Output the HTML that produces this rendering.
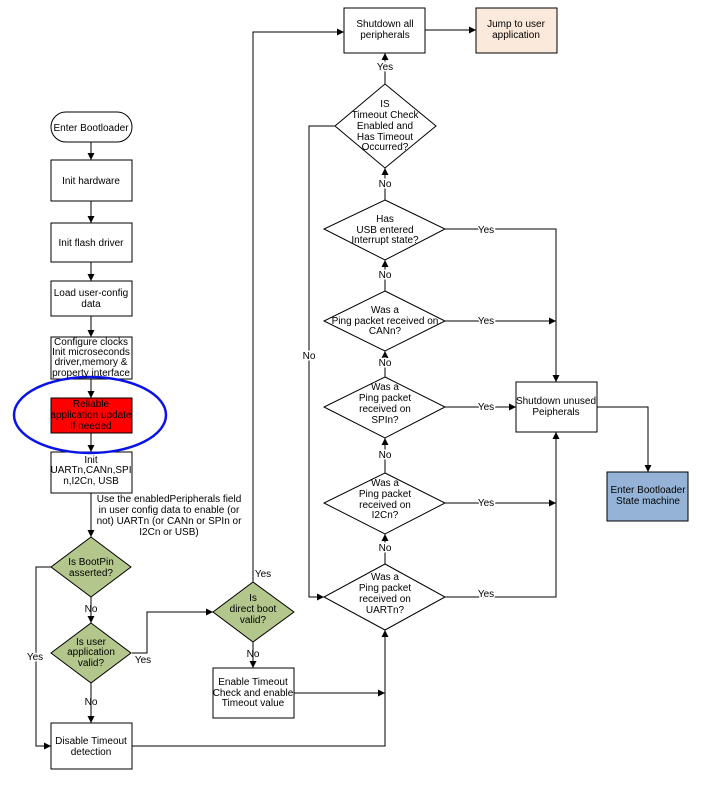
<!DOCTYPE html>
<html><head><meta charset="utf-8"><style>
html,body{margin:0;padding:0;background:#fff;}
svg{display:block;font-family:"Liberation Sans",Arial,sans-serif;font-size:10px;}
</style></head><body>
<svg width="717" height="787" viewBox="0 0 717 787" xmlns="http://www.w3.org/2000/svg">
<defs><marker id="a" markerWidth="8" markerHeight="8" refX="7" refY="4" orient="auto" markerUnits="userSpaceOnUse"><path d="M0,0.5 L7,4 L0,7.5 z" fill="#000"/></marker></defs>
<g fill="none" stroke="#000" stroke-width="1">
<!-- left column -->
<line x1="91" y1="142" x2="91" y2="160" marker-end="url(#a)"/>
<line x1="91" y1="201" x2="91" y2="223" marker-end="url(#a)"/>
<line x1="91" y1="262" x2="91" y2="281" marker-end="url(#a)"/>
<line x1="91" y1="316" x2="91" y2="337" marker-end="url(#a)"/>
<line x1="91" y1="379" x2="91" y2="398" marker-end="url(#a)"/>
<line x1="91" y1="433" x2="91" y2="452" marker-end="url(#a)"/>
<line x1="91" y1="493" x2="91" y2="537" marker-end="url(#a)"/>
<line x1="91" y1="597" x2="91" y2="623" marker-end="url(#a)"/>
<line x1="91" y1="683" x2="91" y2="723" marker-end="url(#a)"/>
<polyline points="51,567 36,567 36,746 51,746" marker-end="url(#a)"/>
<polyline points="132,653 147,653 147,612 213,612" marker-end="url(#a)"/>
<polyline points="253,582 253,32 344,32" marker-end="url(#a)"/>
<line x1="253" y1="642" x2="253" y2="668" marker-end="url(#a)"/>
<line x1="294" y1="693" x2="385" y2="693" marker-end="url(#a)"/>
<polyline points="132,746 385,746 385,630" marker-end="url(#a)"/>
<line x1="425" y1="30" x2="476" y2="30" marker-end="url(#a)"/>
<!-- right column -->
<line x1="385" y1="84" x2="385" y2="53" marker-end="url(#a)"/>
<line x1="385" y1="200" x2="385" y2="168" marker-end="url(#a)"/>
<line x1="385" y1="291" x2="385" y2="260" marker-end="url(#a)"/>
<line x1="385" y1="377" x2="385" y2="351" marker-end="url(#a)"/>
<line x1="385" y1="473" x2="385" y2="438" marker-end="url(#a)"/>
<line x1="385" y1="564" x2="385" y2="534" marker-end="url(#a)"/>
<polyline points="335,126 309,126 309,597 324,597" marker-end="url(#a)"/>
<polyline points="445,229 556,229 556,382" marker-end="url(#a)"/>
<line x1="445" y1="321" x2="556" y2="321" marker-end="url(#a)"/>
<line x1="445" y1="407" x2="516" y2="407" marker-end="url(#a)"/>
<line x1="445" y1="503" x2="556" y2="503" marker-end="url(#a)"/>
<polyline points="445,597 556,597 556,432" marker-end="url(#a)"/>
<polyline points="597,407 648,407 648,472" marker-end="url(#a)"/>
</g>
<!-- shapes -->
<g stroke="#000" stroke-width="1">
<rect x="51" y="112" width="81" height="30" rx="15" fill="#fff"/>
<rect x="51" y="160" width="81" height="41" fill="#fff"/>
<rect x="51" y="223" width="81" height="39" fill="#fff"/>
<rect x="51" y="281" width="81" height="35" fill="#fff"/>
<rect x="51" y="337" width="81" height="42" fill="#fff"/>
<rect x="51" y="398" width="81" height="35" fill="#ff0000"/>
<rect x="51" y="452" width="81" height="41" fill="#fff"/>
<polygon points="91,537 131,567 91,597 51,567" fill="#b3c78c"/>
<polygon points="91,623 131,653 91,683 51,653" fill="#b3c78c"/>
<rect x="51" y="723" width="81" height="46" fill="#fff"/>
<polygon points="253,582 294,612 253,642 213,612" fill="#b3c78c"/>
<rect x="213" y="668" width="81" height="50" fill="#fff"/>
<rect x="344" y="8" width="81" height="45" fill="#fff"/>
<rect x="476" y="8" width="81" height="45" fill="#fbe9dc"/>
<polygon points="385,84 436,126 385,168 335,126" fill="#fff"/>
<polygon points="385,200 445,229 385,260 324,229" fill="#fff"/>
<polygon points="385,291 445,321 385,351 324,321" fill="#fff"/>
<polygon points="385,377 445,407 385,438 324,407" fill="#fff"/>
<polygon points="385,473 445,503 385,534 324,503" fill="#fff"/>
<polygon points="385,564 445,597 385,630 324,597" fill="#fff"/>
<rect x="516" y="382" width="81" height="50" fill="#fff"/>
<rect x="607" y="472" width="81" height="49" fill="#95b3d7"/>
</g>
<ellipse cx="90" cy="415" rx="76" ry="38" fill="none" stroke="#0a14e6" stroke-width="2.5"/>
<!-- text -->
<g text-anchor="middle" fill="#000">
<text x="91" y="131">Enter Bootloader</text>
<text x="91" y="184">Init hardware</text>
<text x="91" y="246">Init flash driver</text>
<text x="91" y="296">Load user-config</text><text x="91" y="307">data</text>
<text x="91" y="345">Configure clocks</text><text x="91" y="355">Init microseconds</text><text x="91" y="365">driver,memory &amp;</text><text x="91" y="376">property interface</text>
<text x="91" y="407">Reliable</text><text x="91" y="418">application update</text><text x="91" y="429">if needed</text>
<text x="91" y="463">Init</text><text x="91" y="473">UARTn,CANn,SPI</text><text x="91" y="484">n,I2Cn, USB</text>
<text x="169" y="502">Use the enabledPeripherals field</text><text x="169" y="513">in user config data to enable (or</text><text x="169" y="524">not) UARTn (or CANn or SPIn or</text><text x="169" y="535">I2Cn or USB)</text>
<text x="91" y="565">Is BootPin</text><text x="91" y="576">asserted?</text>
<text x="91" y="612">No</text>
<text x="91" y="645">Is user</text><text x="91" y="655">application</text><text x="91" y="666">valid?</text>
<text x="91" y="705">No</text>
<text x="35" y="660" fill="#000" style="paint-order:stroke" stroke="#fff" stroke-width="3">Yes</text>
<text x="143" y="663">Yes</text>
<text x="91" y="744">Disable Timeout</text><text x="91" y="755">detection</text>
<text x="253" y="601">Is</text><text x="253" y="612">direct boot</text><text x="253" y="623">valid?</text>
<text x="263" y="577">Yes</text>
<text x="253" y="657">No</text>
<text x="253" y="685">Enable Timeout</text><text x="253" y="696">Check and enable</text><text x="253" y="706">Timeout value</text>
<text x="385" y="27">Shutdown all</text><text x="385" y="38">peripherals</text>
<text x="516" y="27">Jump to user</text><text x="516" y="38">application</text>
<text x="385" y="70" stroke="#fff" stroke-width="3" style="paint-order:stroke">Yes</text>
<text x="385" y="107">IS</text><text x="385" y="118">Timeout Check</text><text x="385" y="129">Enabled and</text><text x="385" y="140">Has Timeout</text><text x="385" y="150">Occurred?</text>
<text x="385" y="187" stroke="#fff" stroke-width="3" style="paint-order:stroke">No</text>
<text x="385" y="222">Has</text><text x="385" y="233">USB entered</text><text x="385" y="243">Interrupt state?</text>
<text x="385" y="278" stroke="#fff" stroke-width="3" style="paint-order:stroke">No</text>
<text x="385" y="313">Was a</text><text x="385" y="324">Ping packet received on</text><text x="385" y="334">CANn?</text>
<text x="385" y="366" stroke="#fff" stroke-width="3" style="paint-order:stroke">No</text>
<text x="385" y="390">Was a</text><text x="385" y="401">Ping packet</text><text x="385" y="412">received on</text><text x="385" y="423">SPIn?</text>
<text x="385" y="458" stroke="#fff" stroke-width="3" style="paint-order:stroke">No</text>
<text x="385" y="486">Was a</text><text x="385" y="497">Ping packet</text><text x="385" y="508">received on</text><text x="385" y="518">I2Cn?</text>
<text x="385" y="551" stroke="#fff" stroke-width="3" style="paint-order:stroke">No</text>
<text x="385" y="580">Was a</text><text x="385" y="591">Ping packet</text><text x="385" y="602">received on</text><text x="385" y="613">UARTn?</text>
<text x="309" y="359" stroke="#fff" stroke-width="3" style="paint-order:stroke">No</text>
<g stroke="#fff" stroke-width="3" style="paint-order:stroke">
<text x="486" y="233">Yes</text><text x="486" y="324">Yes</text><text x="486" y="410">Yes</text><text x="486" y="506">Yes</text><text x="486" y="597">Yes</text>
</g>
<text x="556" y="404">Shutdown unused</text><text x="556" y="415">Peipherals</text>
<text x="648" y="493">Enter Bootloader</text><text x="648" y="504">State machine</text>
</g>
</svg>
</body></html>
